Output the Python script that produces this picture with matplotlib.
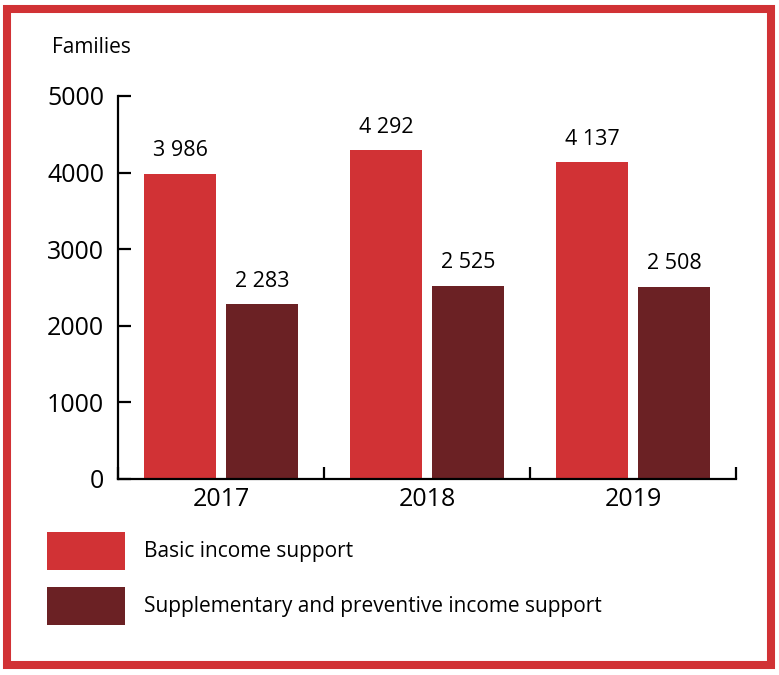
from matplotlib import pyplot as plt
from matplotlib import patches
import numpy as np

plt.rcParams['font.family'] = ['Liberation Sans Narrow', 'Open Sans', 'DejaVu Sans']

years = ['2017', '2018', '2019']
basic = [3986, 4292, 4137]
supplementary = [2283, 2525, 2508]
series_names = ['Basic income support', 'Supplementary and preventive income support']

red = '#d13235'
dark = '#6b2124'

fig = plt.figure(figsize=(7.79, 6.75), dpi=100)
ax = fig.add_axes([0.1515, 0.2904, 0.7933, 0.5674])

x = np.arange(len(years))
w = 0.354
b1 = ax.bar(x - 0.199, basic, w, color=red, label=series_names[0])
b2 = ax.bar(x + 0.199, supplementary, w, color=dark, label=series_names[1])

def fmt(v):
    return f'{v:,}'.replace(',', ' ')

for bars, vals in ((b1, basic), (b2, supplementary)):
    for rect, v in zip(bars, vals):
        ax.annotate(fmt(v), (rect.get_x() + rect.get_width() / 2, v),
                    xytext=(0, 9), textcoords='offset points',
                    ha='center', va='bottom', fontsize=15.5)

ax.set_xlim(-0.5, 2.5)
ax.set_ylim(0, 5000)
ax.set_yticks([0, 1000, 2000, 3000, 4000, 5000])
ax.tick_params(axis='y', direction='in', length=9, width=1.6, labelsize=18, pad=10)

# year labels under the groups, tick marks at the group boundaries
ax.set_xticks(x)
ax.set_xticklabels(years)
ax.set_xticks([-0.5, 0.5, 1.5, 2.5], minor=True)
ax.tick_params(axis='x', which='major', length=0, labelsize=18, pad=6)
ax.tick_params(axis='x', which='minor', direction='in', length=9, width=1.6)

for side in ('top', 'right'):
    ax.spines[side].set_visible(False)
for side in ('left', 'bottom'):
    ax.spines[side].set_linewidth(1.6)

fig.text(0.067, 0.930, 'Families', fontsize=15, va='center', ha='left')

fig.legend(handles=[b1, b2], labels=series_names, loc='upper left',
           bbox_to_anchor=(0.0603, 0.2119), frameon=False, fontsize=15,
           handlelength=3.73, handleheight=2.4, handletextpad=0.95,
           labelspacing=0.85, borderpad=0, borderaxespad=0)

frame = patches.Rectangle((0.009, 0.0148), 0.9808, 0.9719, transform=fig.transFigure,
                          fill=False, edgecolor=red, linewidth=5.8)
fig.patches.append(frame)

fig.savefig('out.png', dpi=100)
